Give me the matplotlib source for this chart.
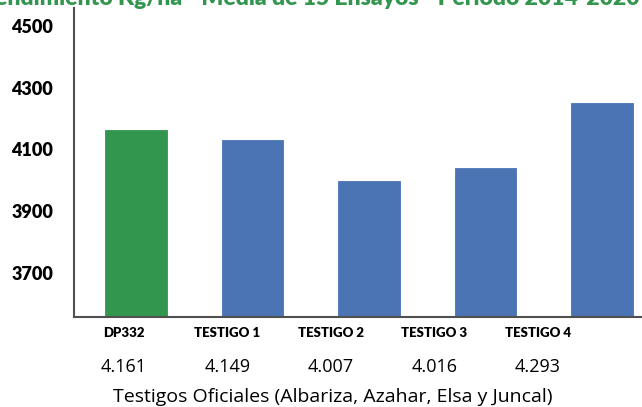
import matplotlib
matplotlib.use("Agg")
import matplotlib.pyplot as plt

categories = ["DP332", "TESTIGO 1", "TESTIGO 2", "TESTIGO 3", "TESTIGO 4"]
bar_values = [4163, 4131, 3998, 4040, 4251]
value_labels = ["4.161", "4.149", "4.007", "4.016", "4.293"]
yticks = [3700, 3900, 4100, 4300, 4500]
title = "Rendimiento Kg/ha - Media de 15 Ensayos - Periodo 2014-2020"
xlabel = "Testigos Oficiales (Albariza, Azahar, Elsa y Juncal)"

GREEN = "#33964f"
BLUE = "#4b74b4"
colors = [GREEN] + [BLUE] * (len(categories) - 1)

W, H = 642, 407
fig = plt.figure(figsize=(W / 100, H / 100), dpi=100)
# axes in pixel coordinates: left=74, top=8, bottom=317, right beyond the image
left, right, top, bottom = 74, 664, 8, 317
ax = fig.add_axes([left / W, 1 - bottom / H, (right - left) / W, (bottom - top) / H])

x = list(range(len(categories)))
ax.bar(x, bar_values, width=0.53, color=colors, edgecolor=colors, linewidth=0.6)
ax.set_xlim(-0.533, len(categories) - 1 + 0.533)
ax.set_ylim(3557, 4558)
ax.set_yticks(yticks)
ax.set_yticklabels([str(v) for v in yticks], fontfamily="Lato", fontweight="heavy", fontsize=13)
ax.tick_params(axis="y", length=0, pad=15)
ax.set_xticks([])
for s in ["top", "right"]:
    ax.spines[s].set_visible(False)
for s in ["left", "bottom"]:
    ax.spines[s].set_color("#505050")
    ax.spines[s].set_linewidth(1.5)

# labels under the chart
x0, step = 124, 103.5
for i, (c, v) in enumerate(zip(categories, value_labels)):
    px = x0 + step * i
    fig.text(px / W, 1 - 333 / H, c, ha="center", va="center",
             fontfamily="Lato", fontweight="heavy", fontsize=9.5)
    fig.text(px / W, 1 - 367 / H, v, ha="center", va="center",
             fontfamily="Open Sans", fontsize=13)
fig.text(333 / W, 1 - 397 / H, xlabel, ha="center", va="center",
         fontfamily="Open Sans", fontsize=14)

fig.text(310 / W, 1 - 5 / H, title, ha="center", va="baseline",
         fontfamily="Lato", fontweight="heavy", fontsize=16.5, color=GREEN)

fig.savefig("out.png", dpi=100)
